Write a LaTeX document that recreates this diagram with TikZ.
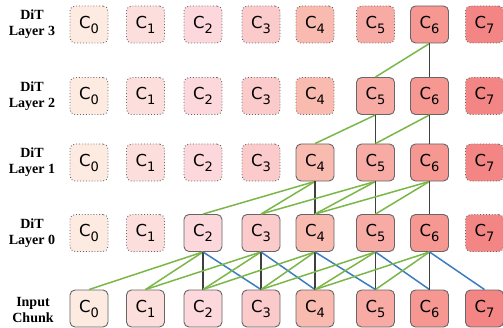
\documentclass[tikz,border=0pt]{standalone}
\usepackage{fontspec}
\setmainfont{Liberation Serif}
\newfontfamily\chunkfont{DejaVu Sans}
\definecolor{chunk0}{HTML}{FDEBE1}
\definecolor{chunk1}{HTML}{FCDFDC}
\definecolor{chunk2}{HTML}{FCD7DB}
\definecolor{chunk3}{HTML}{FBCBCB}
\definecolor{chunk4}{HTML}{F9BBB0}
\definecolor{chunk5}{HTML}{F8AAA4}
\definecolor{chunk6}{HTML}{F69792}
\definecolor{chunk7}{HTML}{F48585}
\definecolor{linkgreen}{HTML}{7AB648}
\definecolor{linkblue}{HTML}{3C7DBD}
\definecolor{linkblack}{HTML}{404040}
\definecolor{boxgray}{HTML}{666666}

\begin{document}
\begin{tikzpicture}[
	x=1pt, y=1pt,
	chunk/.style={rounded corners=5pt, minimum width=38pt, minimum height=37pt,
		inner sep=0pt, draw=boxgray, line width=0.9pt,
		font=\chunkfont\fontsize{16.5}{17}\selectfont},
	active/.style={chunk},
	idle/.style={chunk, dotted},
	rowlabel/.style={align=center, font=\bfseries\fontsize{14}{16}\selectfont},
	past/.style={draw=linkgreen, line width=1.5pt},
	same/.style={draw=linkblack, line width=1.5pt},
	future/.style={draw=linkblue, line width=1.5pt},
]
\useasboundingbox (0,0) rectangle (503,327);
% Chunk text: C with a lowered index.
\def\chunklabel#1{C\raisebox{-5pt}{\fontsize{13}{13}\selectfont#1}}

% Rows: name / height / first and last computed chunk.
\foreach \row/\y/\lo/\hi in {in/18.5/0/7, l0/94/2/6, l1/164.5/4/6,
		l2/231/5/6, l3/302.5/6/6}{
	\foreach \x [count=\i from 0] in {89,145.5,203,261,315,375.5,429.5,484.5}{
		\ifnum\i<\lo \def\kind{idle}\else
			\ifnum\i>\hi \def\kind{idle}\else \def\kind{active}\fi\fi
		\node[\kind, fill=chunk\i] (\row-\i) at (\x,\y) {\chunklabel{\i}};
	}
}

\node[rowlabel] (lab3) at (32,302.5) {DiT\\Layer 3};
\node[rowlabel] (lab2) at (32,231) {DiT\\Layer 2};
\node[rowlabel] (lab1) at (32,164.5) {DiT\\Layer 1};
\node[rowlabel] (lab0) at (32,94) {DiT\\Layer 0};
\node[rowlabel] (labin) at (33,17) {Input\\Chunk};

% Input chunk -> layer 0 (two past, same, one future).
\foreach \i in {2,...,6}{
	\pgfmathtruncatemacro\a{\i-2}
	\pgfmathtruncatemacro\b{\i-1}
	\pgfmathtruncatemacro\c{\i+1}
	\draw[past] (l0-\i.south) -- (in-\a.north);
	\draw[past] (l0-\i.south) -- (in-\b.north);
	\draw[same] (l0-\i.south) -- (in-\i.north);
	\draw[future] (l0-\i.south) -- (in-\c.north);
}
% Layer 0 -> layer 1.
\foreach \i in {4,5,6}{
	\pgfmathtruncatemacro\a{\i-2}
	\pgfmathtruncatemacro\b{\i-1}
	\draw[past] (l1-\i.south) -- (l0-\a.north);
	\draw[past] (l1-\i.south) -- (l0-\b.north);
	\draw[same] (l1-\i.south) -- (l0-\i.north);
}
% Layer 1 -> layer 2.
\foreach \i in {5,6}{
	\pgfmathtruncatemacro\b{\i-1}
	\draw[past] (l2-\i.south) -- (l1-\b.north);
	\draw[same] (l2-\i.south) -- (l1-\i.north);
}
% Layer 2 -> layer 3.
\draw[past] (l3-6.south) -- (l2-5.north);
\draw[same] (l3-6.south) -- (l2-6.north);
\end{tikzpicture}
\end{document}
